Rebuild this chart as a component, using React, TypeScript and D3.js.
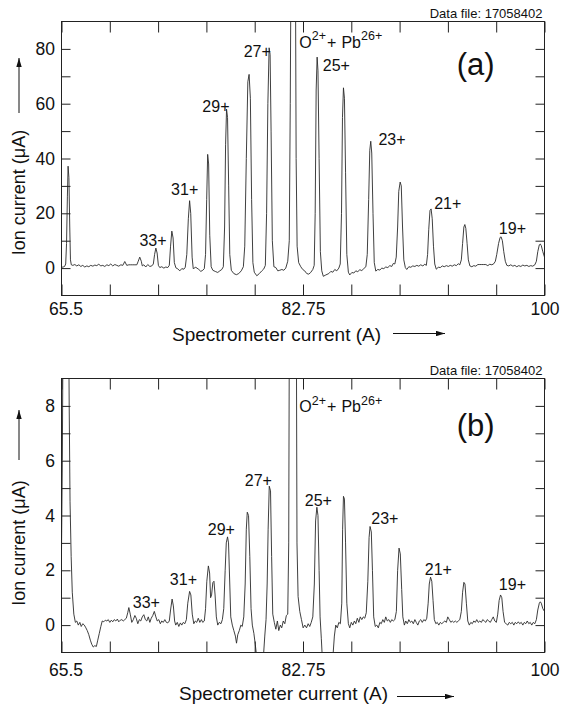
import * as d3 from "d3";
import { useEffect, useRef } from "react";

// spectrometer current (A) vs ion current, panel (a) in uA
const topTrace: [number, number][] = [
  [65.5, 0.3], [65.62, 0.4], [65.72, 0.6], [65.8, 1.5], [65.86, 9], [65.92, 26], [65.97, 37.2], [66.03, 33],
  [66.09, 15], [66.14, 3], [66.2, 1.2], [66.31, 1.0], [66.45, 1.3], [66.59, 0.8], [66.74, 1.2], [66.88, 0.6],
  [67.02, 1.0], [67.16, 0.4], [67.31, 0.8], [67.45, 0.5], [67.59, 1.0], [67.74, 0.7], [67.88, 1.1], [68.02, 0.9],
  [68.16, 1.4], [68.31, 0.8], [68.45, 1.0], [68.59, 0.6], [68.74, 1.2], [68.88, 0.9], [69.02, 1.5], [69.16, 0.8],
  [69.31, 1.3], [69.45, 1.0], [69.59, 0.7], [69.74, 1.2], [69.88, 1.0], [70.02, 2.4], [70.16, 1.0], [70.31, 1.2],
  [70.45, 1.2], [70.59, 1.2], [70.74, 1.2], [70.88, 1.2], [70.98, 2.5], [71.09, 4.0], [71.2, 2.5], [71.27, 0.8],
  [71.38, 1.2], [71.52, 0.4], [71.66, 1.3], [71.81, 0.6], [71.95, 0.8], [72.06, 1.5], [72.15, 5], [72.24, 7.3],
  [72.33, 5.5], [72.42, 1.0], [72.52, 0.2], [72.66, 0.5], [72.81, 0.0], [72.95, 0.4], [73.09, 0.2], [73.2, 1.0],
  [73.29, 8], [73.38, 13.5], [73.47, 11], [73.56, 2], [73.67, 0.1], [73.81, -0.3], [73.95, -1.0], [74.09, -0.2],
  [74.24, -0.4], [74.34, 0.3], [74.45, 5], [74.56, 18], [74.65, 24.6], [74.73, 20], [74.83, 4], [74.91, -0.2],
  [75.09, 0.3], [75.31, -0.5], [75.45, -1.2], [75.59, -0.8], [75.7, -0.2], [75.79, 5], [75.87, 25], [75.94, 41.5],
  [76.01, 38], [76.09, 12], [76.19, 0.5], [76.31, -0.8], [76.52, -1.3], [76.66, -1.6], [76.81, -1.0], [76.95, -0.5],
  [77.06, 0.5], [77.15, 15], [77.22, 45], [77.29, 58], [77.36, 55], [77.44, 30], [77.52, 5], [77.63, -0.8],
  [77.81, -2.0], [77.99, -2.4], [78.16, -2.0], [78.34, -1.0], [78.49, 0.5], [78.59, 8], [78.7, 40], [78.81, 68],
  [78.9, 70.7], [78.99, 62], [79.08, 25], [79.17, 2], [79.27, -1.5], [79.45, -2.8], [79.63, -2.0], [79.81, -1.0],
  [79.95, -0.3], [80.06, 1], [80.15, 20], [80.24, 60], [80.33, 80.4], [80.4, 78], [80.47, 50], [80.56, 10],
  [80.67, 0.5], [80.81, 0.2], [80.95, -1.0], [81.09, -0.8], [81.24, -0.5], [81.38, -0.8], [81.52, 0.0], [81.66, 2.5],
  [81.77, 10], [81.84, 60], [81.89, 110], [81.98, 150], [82.12, 150], [82.21, 110], [82.26, 40], [82.33, 8],
  [82.44, 2.0], [82.59, 0.5], [82.73, -0.5], [82.87, -1.0], [83.02, -2.0], [83.16, -2.2], [83.3, -1.6], [83.45, -0.5],
  [83.55, 1], [83.62, 20], [83.69, 65], [83.76, 77], [83.82, 72], [83.9, 40], [83.99, 6], [84.09, -1],
  [84.2, -3.0], [84.38, -2.5], [84.59, -2.0], [84.74, -1.2], [84.88, -1.5], [85.02, -0.5], [85.16, -1.0], [85.31, 0],
  [85.41, 1.5], [85.5, 20], [85.57, 55], [85.64, 65.8], [85.71, 62], [85.79, 35], [85.88, 5], [85.99, -1.5],
  [86.09, -2.5], [86.24, -1.6], [86.38, -1.8], [86.52, -1.0], [86.66, -1.3], [86.81, -0.6], [86.95, -0.9], [87.09, -0.2],
  [87.24, 0.5], [87.34, 5], [87.44, 25], [87.52, 43], [87.59, 46.3], [87.66, 42], [87.75, 20], [87.84, 2],
  [87.95, -1.1], [88.09, -0.5], [88.24, -0.7], [88.38, 0.0], [88.52, -0.2], [88.66, 0.4], [88.81, 0.2], [88.95, 0.9],
  [89.09, 0.6], [89.2, 1.7], [89.31, 1.5], [89.41, 4], [89.51, 15], [89.59, 28], [89.69, 31.4], [89.77, 30],
  [89.86, 15], [89.95, 3], [90.06, 0.2], [90.16, -0.5], [90.31, 0.5], [90.45, 0.3], [90.59, 0.8], [90.74, 0.6],
  [90.88, 1.0], [91.02, 0.7], [91.16, 1.2], [91.31, 0.8], [91.45, 1.4], [91.56, 1.0], [91.65, 5], [91.73, 14],
  [91.82, 21], [91.9, 21.6], [91.98, 18], [92.07, 8], [92.16, 1.5], [92.27, -0.4], [92.41, 0.3], [92.56, 0.2],
  [92.7, 0.8], [92.84, 0.5], [92.99, 0.9], [93.13, 0.6], [93.27, 1.0], [93.41, 0.7], [93.56, 1.2], [93.7, 0.9],
  [93.84, 1.6], [93.95, 1.2], [94.06, 3], [94.15, 9], [94.24, 15], [94.31, 15.9], [94.38, 14.5], [94.47, 9],
  [94.56, 3], [94.67, 0.8], [94.81, 0.5], [94.95, 0.9], [95.09, 0.7], [95.24, 1.3], [95.38, 1.3], [95.52, 1.3],
  [95.66, 1.3], [95.81, 1.3], [95.95, 0.9], [96.09, 1.4], [96.24, 1.2], [96.38, 1.6], [96.49, 2.5], [96.59, 5],
  [96.72, 9], [96.83, 11.2], [96.9, 11.4], [96.99, 10], [97.09, 6], [97.2, 2.5], [97.31, 1.0], [97.45, 0.8],
  [97.59, 1.2], [97.74, 0.7], [97.88, 1.0], [98.02, 0.5], [98.16, 0.9], [98.31, 0.6], [98.45, 1.1], [98.59, 0.8],
  [98.74, 1.0], [98.88, 0.6], [99.02, 0.9], [99.16, 0.7], [99.31, 1.2], [99.42, 2.5], [99.52, 6], [99.63, 8.5],
  [99.7, 8.8], [99.77, 8.2], [99.88, 6], [100.0, 4],
];

// panel (b), same scan, uA
const bottomTrace: [number, number][] = [
  [65.5, 2.7], [65.56, 6], [65.62, 12], [66.0, 12], [66.05, 8], [66.11, 4.5], [66.19, 2.5], [66.27, 1.2],
  [66.38, 0.4], [66.49, 0.1], [66.59, 0.15], [66.7, 0.0], [66.81, 0.1], [66.91, -0.05], [67.02, 0.05], [67.13, 0.0],
  [67.24, -0.1], [67.34, -0.2], [67.45, -0.35], [67.56, -0.55], [67.66, -0.7], [67.77, -0.8], [67.88, -0.75], [67.99, -0.78],
  [68.09, -0.55], [68.2, -0.3], [68.31, -0.05], [68.41, 0.15], [68.52, 0.12], [68.63, 0.18], [68.74, 0.15], [68.84, 0.2],
  [68.95, 0.1], [69.06, 0.18], [69.16, 0.12], [69.27, 0.2], [69.38, 0.15], [69.49, 0.22], [69.59, 0.12], [69.7, 0.18],
  [69.81, 0.2], [69.91, 0.15], [70.02, 0.2], [70.13, 0.25], [70.23, 0.45], [70.31, 0.64], [70.41, 0.4], [70.52, 0.1],
  [70.63, 0.2], [70.74, 0.35], [70.84, 0.25], [70.95, 0.05], [71.06, 0.2], [71.16, 0.15], [71.27, 0.3], [71.38, 0.38],
  [71.49, 0.2], [71.59, 0.15], [71.7, 0.3], [71.81, 0.1], [71.91, 0.25], [72.02, 0.35], [72.13, 0.5], [72.24, 0.3],
  [72.34, 0.15], [72.45, 0.2], [72.56, 0.05], [72.66, 0.15], [72.77, 0.1], [72.88, 0.2], [72.99, 0.1], [73.09, 0.08],
  [73.2, 0.15], [73.29, 0.55], [73.4, 0.95], [73.49, 0.7], [73.58, 0.15], [73.66, 0.0], [73.77, 0.1], [73.88, -0.05],
  [73.99, 0.08], [74.09, 0.0], [74.2, 0.1], [74.31, 0.05], [74.42, 0.2], [74.52, 0.8], [74.65, 1.23], [74.74, 1.1],
  [74.84, 0.4], [74.95, 0.05], [75.06, 0.15], [75.16, 0.1], [75.27, 0.25], [75.38, 0.1], [75.49, 0.2], [75.59, 0.1],
  [75.7, 0.15], [75.79, 0.6], [75.88, 1.6], [75.99, 2.16], [76.08, 1.9], [76.15, 1.0], [76.22, 1.1], [76.31, 1.55],
  [76.39, 1.6], [76.47, 1.1], [76.56, 0.3], [76.66, 0.0], [76.77, 0.1], [76.89, 0.05], [76.99, 0.2], [77.09, 0.6],
  [77.19, 2.0], [77.27, 3.0], [77.36, 3.22], [77.43, 3.0], [77.52, 1.5], [77.59, 0.3], [77.7, 0.0], [77.81, -0.2],
  [77.92, -0.4], [78.0, -0.66], [78.09, -0.35], [78.2, -0.2], [78.31, 0.0], [78.41, -0.05], [78.52, 0.3], [78.62, 1.5],
  [78.7, 3.5], [78.77, 4.12], [78.86, 4.0], [78.95, 2.5], [79.04, 0.6], [79.13, 0.0], [79.24, -0.3], [79.34, -0.7],
  [79.45, -1.2], [79.59, -1.8], [79.81, -1.8], [79.93, -1.1], [80.02, -0.4], [80.11, 0.2], [80.19, 1.5], [80.26, 3.5],
  [80.34, 5.07], [80.43, 4.9], [80.51, 2.5], [80.59, 0.4], [80.7, 0.1], [80.81, -0.15], [80.92, 0.15], [81.02, -0.2],
  [81.13, 0.0], [81.23, -0.1], [81.34, 0.15], [81.45, 0.05], [81.56, 0.35], [81.66, 0.4], [81.73, 3], [81.78, 12],
  [82.27, 12], [82.32, 3], [82.4, 1.04], [82.52, 0.5], [82.64, 0.2], [82.76, -0.1], [82.88, 0.0], [83.0, -0.1],
  [83.12, 0.05], [83.23, -0.05], [83.34, 0.1], [83.45, 0.3], [83.56, 1.5], [83.65, 3.8], [83.74, 4.3], [83.82, 4.0],
  [83.9, 2.0], [83.97, 0.3], [84.06, -0.5], [84.16, -1.5], [84.52, -1.8], [84.88, -1.2], [84.99, -0.4], [85.09, 0.0],
  [85.2, -0.1], [85.31, 0.1], [85.42, 0.05], [85.52, 0.8], [85.58, 3.5], [85.64, 4.7], [85.71, 4.6], [85.79, 3.0],
  [85.88, 0.8], [85.99, 0.05], [86.09, -0.1], [86.2, 0.1], [86.31, 0.0], [86.42, 0.15], [86.52, 0.05], [86.63, 0.25],
  [86.74, 0.1], [86.84, 0.3], [86.95, 0.2], [87.06, 0.3], [87.16, 0.25], [87.27, 0.45], [87.38, 1.6], [87.47, 3.2],
  [87.54, 3.6], [87.63, 3.4], [87.71, 2.0], [87.8, 0.3], [87.91, -0.05], [88.02, 0.0], [88.13, -0.1], [88.24, 0.1],
  [88.34, 0.05], [88.45, 0.2], [88.56, 0.1], [88.66, 0.3], [88.77, 0.15], [88.88, 0.2], [88.99, 0.1], [89.09, 0.2],
  [89.2, 0.15], [89.31, 0.2], [89.42, 0.5], [89.51, 2.0], [89.61, 2.81], [89.7, 2.6], [89.8, 1.3], [89.88, 0.3],
  [89.99, 0.0], [90.09, 0.15], [90.2, 0.05], [90.31, 0.2], [90.42, 0.1], [90.52, 0.15], [90.63, 0.05], [90.74, 0.2],
  [90.84, 0.1], [90.95, 0.0], [91.06, 0.15], [91.16, 0.2], [91.27, 0.1], [91.38, 0.2], [91.49, 0.15], [91.59, 0.25],
  [91.69, 0.8], [91.77, 1.5], [91.86, 1.75], [91.95, 1.6], [92.04, 0.9], [92.13, 0.2], [92.24, 0.05], [92.34, 0.1],
  [92.45, 0.0], [92.56, 0.1], [92.66, 0.05], [92.77, 0.1], [92.88, 0.15], [92.99, 0.1], [93.09, 0.3], [93.2, 0.2],
  [93.31, 0.1], [93.41, 0.15], [93.52, 0.1], [93.63, 0.15], [93.74, 0.1], [93.84, 0.15], [93.95, 0.2], [94.06, 0.5],
  [94.15, 1.2], [94.24, 1.56], [94.32, 1.5], [94.42, 0.8], [94.52, 0.15], [94.63, 0.0], [94.74, 0.1], [94.84, 0.05],
  [94.95, 0.15], [95.06, 0.1], [95.16, 0.2], [95.27, 0.1], [95.38, 0.15], [95.49, 0.1], [95.59, 0.2], [95.7, 0.15],
  [95.81, 0.1], [95.91, 0.2], [96.02, 0.15], [96.13, 0.1], [96.23, 0.2], [96.34, 0.3], [96.45, 0.15], [96.56, 0.1],
  [96.66, 0.4], [96.76, 0.9], [96.86, 1.1], [96.95, 1.0], [97.04, 0.5], [97.15, 0.1], [97.26, 0.05], [97.38, 0.0],
  [97.48, 0.1], [97.59, 0.05], [97.7, 0.1], [97.81, 0.0], [97.91, 0.1], [98.02, 0.05], [98.13, 0.12], [98.23, 0.05],
  [98.34, 0.1], [98.45, 0.0], [98.56, 0.1], [98.66, 0.05], [98.77, 0.15], [98.88, 0.05], [98.98, 0.1], [99.09, 0.0],
  [99.2, 0.1], [99.31, 0.05], [99.42, 0.2], [99.52, 0.55], [99.63, 0.8], [99.7, 0.85], [99.77, 0.8], [99.88, 0.6],
  [100.0, 0.5],
];

const xTickValues = [65.5, 68.95, 72.4, 75.85, 79.3, 82.75, 86.2, 89.65, 93.1, 96.55, 100];
const xTickLabels = [65.5, 82.75, 100];

const topYTicks = [0, 10, 20, 30, 40, 50, 60, 70, 80];
const topYLabels = [0, 20, 40, 60, 80];
const bottomYTicks = [0, 1, 2, 3, 4, 5, 6, 7, 8];
const bottomYLabels = [0, 2, 4, 6, 8];

// charge state labels and where they sit (data units)
const chargeLabels = ["33+", "31+", "29+", "27+", "25+", "23+", "21+", "19+"];
const topLabelX = [71.07, 73.33, 75.56, 78.51, 84.16, 88.14, 92.12, 96.74];
const topLabelY = [8.2, 26.5, 56.8, 76.9, 71.8, 45.1, 21.4, 12.3];
const bottomLabelX = [70.59, 73.24, 75.95, 78.59, 82.88, 87.63, 91.45, 96.74];
const bottomLabelY = [0.63, 1.47, 3.3, 5.09, 4.36, 3.7, 1.84, 1.29];

const dataFile = "Data file: 17058402";

const panels = [
  {
    tag: "(a)", trace: topTrace, yDomain: [-10, 90], yTicks: topYTicks, yLabels: topYLabels,
    labelX: topLabelX, labelY: topLabelY, mixAt: [82.49, 80.5], tagAt: [95.08, 70.5],
    top: 21.5, tickPad: 7, titleX: 172, titleY: 341, arrowX: [393, 445], arrowY: 333.5,
    yTitleC: 192.5, yArrow: [113, 58],
  },
  {
    tag: "(b)", trace: bottomTrace, yDomain: [-1, 9], yTicks: bottomYTicks, yLabels: bottomYLabels,
    labelX: bottomLabelX, labelY: bottomLabelY, mixAt: [82.49, 7.76], tagAt: [95.08, 6.9],
    top: 378.5, tickPad: 11.5, titleX: 179, titleY: 700, arrowX: [397, 454], arrowY: 696.5,
    yTitleC: 543, yArrow: [460, 410],
  },
];

const FONT = "'Liberation Sans', Arial, Helvetica, sans-serif";

const App = () => {
  const svgRef = useRef<SVGSVGElement>(null);

  useEffect(() => {
    const w = 563;
    const h = 707;
    const left = 61.5;
    const right = 544.5;
    const plotH = 274;

    const svg = d3.select(svgRef.current).attr("width", w).attr("height", h);
    svg.selectAll("*").remove();
    svg.append("rect").attr("width", w).attr("height", h).attr("fill", "#fff");

    const defs = svg.append("defs");
    defs.append("marker")
      .attr("id", "head")
      .attr("viewBox", "0 0 10 6")
      .attr("refX", 10)
      .attr("refY", 3)
      .attr("markerWidth", 9)
      .attr("markerHeight", 5.4)
      .attr("markerUnits", "userSpaceOnUse")
      .attr("orient", "auto")
      .append("path")
      .attr("d", "M0,0L10,3L0,6z")
      .attr("fill", "#111");

    const xScale = d3.scaleLinear().domain([65.5, 100]).range([left, right]);

    panels.forEach((p, i) => {
      const bottom = p.top + plotH;
      const yScale = d3.scaleLinear().domain(p.yDomain).range([bottom, p.top]);
      const g = svg.append("g");

      defs.append("clipPath").attr("id", `clip${i}`)
        .append("rect")
        .attr("x", left).attr("y", p.top)
        .attr("width", right - left).attr("height", plotH);

      // trace
      const line = d3.line<[number, number]>()
        .x((d) => xScale(d[0]))
        .y((d) => yScale(d[1]));
      g.append("path")
        .datum(p.trace)
        .attr("d", line)
        .attr("clip-path", `url(#clip${i})`)
        .attr("fill", "none")
        .attr("stroke", "#2a2a2a")
        .attr("stroke-width", 0.9);

      // axes, ticks point inwards
      const styleAxis = (a: any) => {
        a.select(".domain").remove();
        a.attr("font-family", FONT).attr("font-size", 17.5);
        a.selectAll("line").attr("stroke", "#222");
        a.selectAll("text").attr("fill", "#111");
      };
      g.append("g")
        .attr("transform", `translate(0,${bottom})`)
        .call(
          d3.axisBottom(xScale)
            .tickValues(xTickValues)
            .tickSize(-11)
            .tickPadding(p.tickPad)
            .tickFormat((d: any) => (xTickLabels.includes(d) ? String(d) : ""))
        )
        .call(styleAxis);
      g.selectAll("text")
        .filter((d: any) => d === 65.5)
        .attr("dx", 4);
      g.append("g")
        .attr("transform", `translate(0,${p.top})`)
        .call(d3.axisTop(xScale).tickValues(xTickValues).tickSize(-11).tickFormat(() => ""))
        .call(styleAxis);
      g.append("g")
        .attr("transform", `translate(${left},0)`)
        .call(
          d3.axisLeft(yScale)
            .tickValues(p.yTicks)
            .tickSize(-9)
            .tickPadding(6.5)
            .tickFormat((d: any) => (p.yLabels.includes(d) ? String(d) : ""))
        )
        .call(styleAxis);
      g.append("g")
        .attr("transform", `translate(${right},0)`)
        .call(d3.axisRight(yScale).tickValues(p.yTicks).tickSize(-9).tickFormat(() => ""))
        .call(styleAxis);

      // frame
      g.append("rect")
        .attr("x", left).attr("y", p.top)
        .attr("width", right - left).attr("height", plotH)
        .attr("fill", "none")
        .attr("stroke", "#222")
        .attr("stroke-width", 1);

      // charge state labels
      g.selectAll(".lab")
        .data(chargeLabels)
        .join("text")
        .attr("x", (_d, k) => xScale(p.labelX[k]))
        .attr("y", (_d, k) => yScale(p.labelY[k]))
        .attr("font-family", FONT)
        .attr("font-size", 16)
        .attr("fill", "#111")
        .text((d) => d);

      const mix = g.append("text")
        .attr("x", xScale(p.mixAt[0]))
        .attr("y", yScale(p.mixAt[1]))
        .attr("font-family", FONT)
        .attr("font-size", 16)
        .attr("fill", "#111");
      mix.append("tspan").text("O");
      mix.append("tspan").attr("dy", -7.5).attr("font-size", 12.5).text("2+");
      mix.append("tspan").attr("dy", 7.5).attr("dx", 1).text("+");
      mix.append("tspan").attr("dx", 5).text("Pb");
      mix.append("tspan").attr("dy", -7.5).attr("font-size", 12.5).text("26+");

      g.append("text")
        .attr("x", xScale(p.tagAt[0]))
        .attr("y", yScale(p.tagAt[1]))
        .attr("text-anchor", "middle")
        .attr("font-family", FONT)
        .attr("font-size", 31)
        .attr("fill", "#111")
        .text(p.tag);

      g.append("text")
        .attr("x", right - 2)
        .attr("y", p.top - 4)
        .attr("text-anchor", "end")
        .attr("font-family", FONT)
        .attr("font-size", 13)
        .attr("fill", "#111")
        .text(dataFile);

      // axis titles with arrows
      g.append("text")
        .attr("x", p.titleX)
        .attr("y", p.titleY)
        .attr("font-family", FONT)
        .attr("font-size", 19)
        .attr("fill", "#111")
        .text("Spectrometer current (A)");
      g.append("line")
        .attr("x1", p.arrowX[0]).attr("x2", p.arrowX[1])
        .attr("y1", p.arrowY).attr("y2", p.arrowY)
        .attr("stroke", "#111")
        .attr("marker-end", "url(#head)");

      g.append("text")
        .attr("transform", `translate(19,${p.yTitleC}) rotate(-90)`)
        .attr("text-anchor", "middle")
        .attr("dy", "0.35em")
        .attr("font-family", FONT)
        .attr("font-size", 18)
        .attr("fill", "#111")
        .text("Ion current (μA)");
      g.append("line")
        .attr("x1", 19).attr("x2", 19)
        .attr("y1", p.yArrow[0]).attr("y2", p.yArrow[1])
        .attr("stroke", "#111")
        .attr("marker-end", "url(#head)");
    });
  }, []);

  return (
    <svg
      ref={svgRef}
      style={{ position: "absolute", left: 0, top: 0, display: "block" }}
    ></svg>
  );
};

export default App;
